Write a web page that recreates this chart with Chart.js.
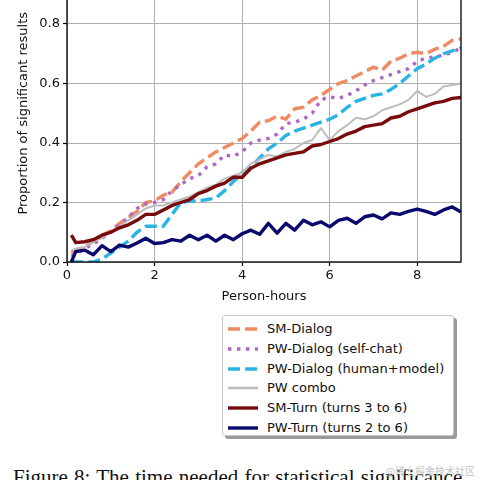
<!DOCTYPE html>
<html>
<head>
<meta charset="utf-8">
<script src="https://cdn.jsdelivr.net/npm/chart.js@4.4.1/dist/chart.umd.min.js"></script>
<style>
  html, body { margin: 0; padding: 0; background: #fff; }
  body { width: 480px; height: 480px; overflow: hidden; position: relative; font-family: "DejaVu Sans", sans-serif; }
  #wrap { position: absolute; left: 0; top: -50px; width: 480px; height: 356px; }
  #legend {
    position: absolute; left: 222px; top: 315px; width: 232px; height: 121px;
    border: 1px solid #c8c8c8; border-radius: 3px; background: #fff;
    box-shadow: 3px 3px 0 #9a9a9a; box-sizing: border-box;
  }
  .row { position: absolute; left: 0; height: 20px; width: 100%; }
  .row svg { position: absolute; left: 4px; top: 0; }
  .row span { position: absolute; left: 44px; top: 1px; font-size: 13px; line-height: 18px; color: #111; white-space: nowrap; }
  #caption {
    position: absolute; left: 13px; top: 467px; font-family: "Liberation Serif", serif;
    font-size: 21px; line-height: 21px; color: #111; white-space: nowrap; word-spacing: 1px;
  }
  #mark {
    position: absolute; right: 5px; top: 463px; font-family: "Noto Sans CJK SC", sans-serif;
    font-size: 10px; color: #c4c4c4; white-space: nowrap;
  }
</style>
</head>
<body>
<div id="wrap"><canvas id="chart" width="480" height="356"></canvas></div>
<div id="legend"></div>
<div id="caption">Figure 8: The time needed for statistical significance</div>
<div id="mark">@稀土掘金技术社区</div>
<script>
// values (proportion of significant results vs person-hours)
const hours = [0.1, 0.2, 0.4, 0.6, 0.8, 1.0, 1.2, 1.4, 1.6, 1.8, 2.0, 2.2, 2.4, 2.6, 2.8, 3.0,
  3.2, 3.4, 3.6, 3.8, 4.0, 4.2, 4.4, 4.6, 4.8, 5.0, 5.2, 5.4, 5.6, 5.8, 6.0, 6.2, 6.4, 6.6, 6.8,
  7.0, 7.2, 7.4, 7.6, 7.8, 8.0, 8.2, 8.4, 8.6, 8.8, 9.0];

const smDialog = [0.03, 0.04, 0.05, 0.07, 0.09, 0.105, 0.13, 0.15, 0.17, 0.20, 0.205, 0.225, 0.235,
  0.27, 0.30, 0.33, 0.35, 0.37, 0.385, 0.40, 0.415, 0.44, 0.47, 0.475, 0.49, 0.48, 0.515, 0.52, 0.545,
  0.56, 0.58, 0.60, 0.61, 0.625, 0.64, 0.655, 0.645, 0.675, 0.685, 0.70, 0.705, 0.70, 0.715, 0.725,
  0.745, 0.75];

const pwDialogSelf = [0.02, 0.025, 0.045, 0.06, 0.08, 0.10, 0.125, 0.15, 0.18, 0.195, 0.20, 0.21,
  0.24, 0.26, 0.28, 0.29, 0.32, 0.33, 0.36, 0.355, 0.37, 0.40, 0.41, 0.415, 0.43, 0.465, 0.47, 0.48,
  0.50, 0.545, 0.555, 0.55, 0.56, 0.575, 0.595, 0.61, 0.62, 0.63, 0.64, 0.65, 0.675, 0.685, 0.69,
  0.695, 0.705, 0.72];

const pwDialogHm = [0.0, 0.0, 0.0, 0.0, 0.01, 0.03, 0.05, 0.07, 0.10, 0.12, 0.12, 0.12, 0.16, 0.20,
  0.205, 0.205, 0.21, 0.215, 0.24, 0.27, 0.30, 0.32, 0.35, 0.38, 0.40, 0.425, 0.44, 0.45, 0.46, 0.47,
  0.48, 0.495, 0.52, 0.54, 0.55, 0.56, 0.565, 0.58, 0.60, 0.625, 0.65, 0.665, 0.685, 0.70, 0.71, 0.72];

const pwCombo = [0.04, 0.045, 0.05, 0.07, 0.08, 0.10, 0.12, 0.14, 0.16, 0.18, 0.19, 0.19, 0.20, 0.21,
  0.22, 0.235, 0.25, 0.26, 0.28, 0.29, 0.30, 0.33, 0.345, 0.36, 0.355, 0.37, 0.38, 0.40, 0.41, 0.45,
  0.41, 0.44, 0.46, 0.485, 0.48, 0.49, 0.51, 0.52, 0.53, 0.545, 0.575, 0.555, 0.565, 0.59, 0.595, 0.60];

const smTurn = [0.09, 0.065, 0.068, 0.075, 0.09, 0.10, 0.115, 0.125, 0.14, 0.16, 0.16, 0.175, 0.19,
  0.20, 0.21, 0.23, 0.24, 0.255, 0.265, 0.285, 0.285, 0.315, 0.33, 0.34, 0.35, 0.36, 0.365, 0.37, 0.39,
  0.395, 0.405, 0.415, 0.43, 0.44, 0.455, 0.46, 0.465, 0.484, 0.49, 0.505, 0.515, 0.525, 0.535, 0.54,
  0.55, 0.553];

const pwTurn = [0.0, 0.035, 0.04, 0.024, 0.055, 0.035, 0.057, 0.05, 0.064, 0.08, 0.062, 0.065, 0.075,
  0.07, 0.09, 0.075, 0.09, 0.07, 0.09, 0.075, 0.095, 0.107, 0.093, 0.13, 0.097, 0.13, 0.107, 0.14,
  0.125, 0.135, 0.118, 0.14, 0.147, 0.13, 0.152, 0.158, 0.145, 0.165, 0.16, 0.17, 0.178, 0.17, 0.16,
  0.175, 0.185, 0.168];

const seriesNames = ['SM-Dialog', 'PW-Dialog (self-chat)', 'PW-Dialog (human+model)', 'PW combo',
  'SM-Turn (turns 3 to 6)', 'PW-Turn (turns 2 to 6)'];

const pts = (ys) => hours.map((h, i) => ({ x: h, y: ys[i] }));

const styles = [
  { color: '#ef8a62', width: 3.4, dash: [12, 5] },
  { color: '#ab68c6', width: 3.4, dash: [3.4, 5.6] },
  { color: '#2ab4e6', width: 3.4, dash: [12, 5] },
  { color: '#bdbdbd', width: 2, dash: [] },
  { color: '#780b0b', width: 3.4, dash: [] },
  { color: '#0a0a6e', width: 3.4, dash: [] },
];

const allSeries = [smDialog, pwDialogSelf, pwDialogHm, pwCombo, smTurn, pwTurn];

// matplotlib style box around the axes
const frame = {
  id: 'frame',
  afterDatasetsDraw(chart) {
    const { ctx, chartArea: a } = chart;
    ctx.save();
    ctx.strokeStyle = '#000';
    ctx.lineWidth = 1.3;
    ctx.strokeRect(a.left, a.top, a.right - a.left, a.bottom - a.top);
    ctx.restore();
  }
};

const ctx = document.getElementById('chart').getContext('2d');
const chart = new Chart(ctx, {
  type: 'line',
  data: {
    datasets: allSeries.map((ys, i) => ({
      label: seriesNames[i],
      data: pts(ys),
      borderColor: styles[i].color,
      borderWidth: styles[i].width,
      borderDash: styles[i].dash,
      borderCapStyle: 'butt',
      borderJoinStyle: 'round',
      pointRadius: 0,
      tension: 0,
      fill: false,
      order: allSeries.length - i,
    })),
  },
  options: {
    responsive: false,
    animation: false,
    layout: { padding: { top: 14.5, right: 19, left: 0, bottom: 0 } },
    plugins: { legend: { display: false }, tooltip: { enabled: false } },
    scales: {
      x: {
        type: 'linear',
        min: 0,
        max: 9,
        afterFit: (s) => { s.height = 44; },
        ticks: { stepSize: 2, includeBounds: false, padding: 2, color: '#111',
          font: { family: 'DejaVu Sans', size: 13 } },
        grid: { color: '#b0b0b0', lineWidth: 1, tickLength: 4, tickColor: '#000', tickWidth: 1.2 },
        border: { display: false },
        title: { display: true, text: 'Person-hours', color: '#111', padding: { top: 2, bottom: 2 },
          font: { family: 'DejaVu Sans', size: 13 } },
      },
      y: {
        min: 0,
        max: 1.0,
        afterFit: (s) => { s.width = 67; },
        ticks: { stepSize: 0.2, padding: 3, color: '#111', callback: (v) => v.toFixed(1),
          font: { family: 'DejaVu Sans', size: 13 } },
        grid: { color: '#b0b0b0', lineWidth: 1, tickLength: 4, tickColor: '#000', tickWidth: 1.2 },
        border: { display: false },
        title: { display: true, text: 'Proportion of significant results', color: '#111',
          padding: { top: 16, bottom: 0 }, font: { family: 'DejaVu Sans', size: 13 } },
      },
    },
  },
  plugins: [frame],
});

// legend below the axes, built from the datasets
const legend = document.getElementById('legend');
chart.data.datasets.forEach((ds, i) => {
  const row = document.createElement('div');
  row.className = 'row';
  row.style.top = (3 + i * 19.8) + 'px';
  const dash = ds.borderDash.length ? ds.borderDash.join(' ') : 'none';
  row.innerHTML =
    '<svg width="32" height="20"><line x1="1" y1="10" x2="31" y2="10" stroke="' + ds.borderColor +
    '" stroke-width="' + Math.max(ds.borderWidth, 2.6) + '" stroke-dasharray="' + dash + '"/></svg>' +
    '<span>' + ds.label + '</span>';
  legend.appendChild(row);
});
</script>
</body>
</html>
